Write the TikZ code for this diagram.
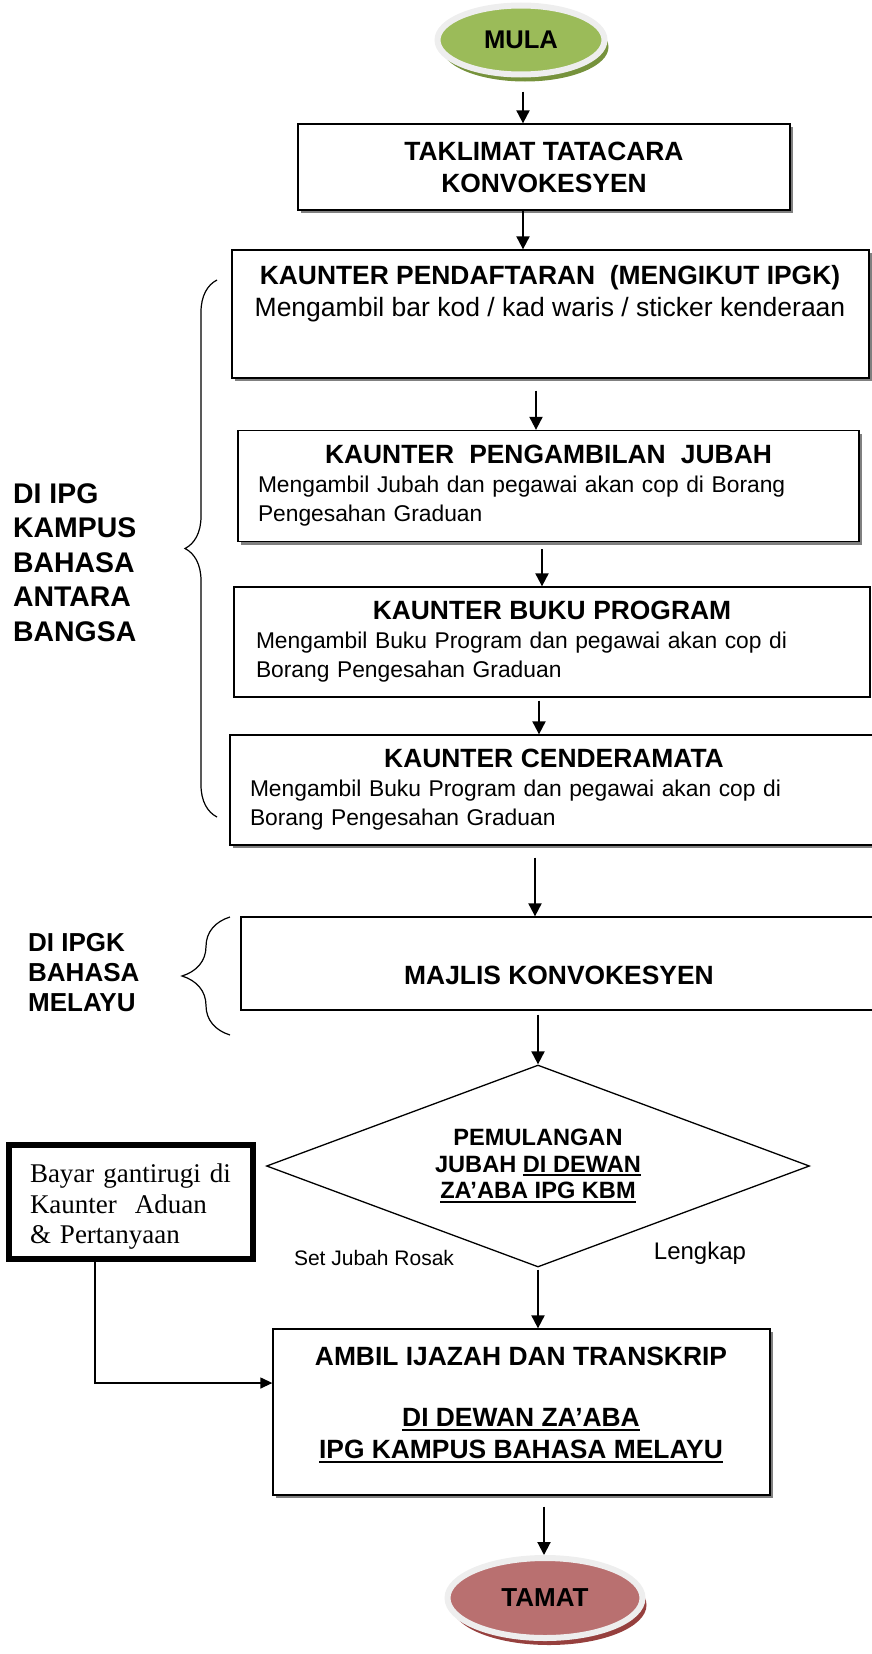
\documentclass[tikz,border=0pt]{standalone}
\usepackage{fontspec}
\setmainfont{Liberation Sans}
\newfontfamily\serifbox{Liberation Serif}
\usetikzlibrary{shapes.geometric,arrows.meta,decorations.pathreplacing,shadows}

\definecolor{mulafill}{RGB}{155,187,89}
\definecolor{mulashade}{RGB}{118,146,60}
\definecolor{tamatfill}{RGB}{185,112,112}
\definecolor{tamatshade}{RGB}{150,64,62}
\definecolor{rimgray}{RGB}{238,238,238}
\definecolor{boxshade}{RGB}{128,128,128}

\newcommand{\ulbar}[1]{\setbox0\hbox{#1}\rlap{\rule[-4pt]{\wd0}{2pt}}\box0}

\begin{document}
\begin{tikzpicture}[x=1pt, y=-1pt, draw=black,
  box/.style={draw, line width=1.3pt, fill=white, inner sep=0pt},
  shbox/.style={box, drop shadow={shadow xshift=3pt, shadow yshift=-3pt, fill=boxshade, opacity=1}},
  ttl/.style={font=\fontsize{26.4}{32}\selectfont\bfseries, align=center, inner sep=0pt},
  body/.style={font=\fontsize{22.8}{29}\selectfont, align=left},
  oval/.style={ellipse, draw=rimgray, line width=6pt, inner sep=0pt, font=\fontsize{25.6}{30}\selectfont\bfseries},
  arr/.style={line width=2pt, -{Triangle[length=13pt,width=13pt]}},
  side/.style={anchor=west, align=left, inner sep=0pt}]

\useasboundingbox (0,0) rectangle (871,1654);

\node[oval, fill=mulafill, minimum width=167pt, minimum height=69pt, drop shadow={shadow xshift=4pt, shadow yshift=-7pt, fill=mulashade, opacity=1}] (mula) at (521,40) {MULA};

\node[shbox, ttl, minimum width=492pt, minimum height=86pt] (taklimat) at (544,167) {TAKLIMAT TATACARA\\KONVOKESYEN};

\node[shbox, minimum width=637pt, minimum height=128pt] (daftar) at (550.5,314) {};
\node[ttl] (daftar-t) at (550,294) {KAUNTER PENDAFTARAN\ \ (MENGIKUT IPGK)\\{\fontsize{26.5}{32}\selectfont\mdseries Mengambil bar kod / kad waris / sticker kenderaan}};

\node[shbox, body, minimum width=621pt, minimum height=111pt, text width=581pt] (jubah) at (548.5,486) {\makebox[\linewidth]{\fontsize{26.4}{32}\selectfont\bfseries KAUNTER\ \ PENGAMBILAN\ \ JUBAH}\\Mengambil Jubah dan pegawai akan cop di Borang\\Pengesahan Graduan};

\node[box, body, minimum width=636pt, minimum height=110pt, text width=592pt] (buku) at (552,642) {\makebox[\linewidth]{\fontsize{26.4}{32}\selectfont\bfseries KAUNTER BUKU PROGRAM}\\Mengambil Buku Program dan pegawai akan cop di\\Borang Pengesahan Graduan};

\node[shbox, body, minimum width=648pt, minimum height=110pt, text width=608pt] (cendera) at (554,790) {\makebox[\linewidth]{\fontsize{26.4}{32}\selectfont\bfseries KAUNTER CENDERAMATA}\\Mengambil Buku Program dan pegawai akan cop di\\Borang Pengesahan Graduan};

\node[box, minimum width=636pt, minimum height=93pt] (majlis) at (559,963.5) {};
\node[ttl] (majlis-t) at (559,975) {MAJLIS KONVOKESYEN};

% side notes
\draw[line width=1.2pt, decorate, decoration={brace, amplitude=32pt}] (217,817) -- (217,280);
\node[side, font=\fontsize{28.4}{34.5}\selectfont\bfseries] (kbba) at (13,562.5) {DI IPG\\KAMPUS\\BAHASA\\ANTARA\\BANGSA};

\draw[line width=1.2pt, decorate, decoration={brace, amplitude=48pt}] (230,1035) -- (230,917);
\node[side, font=\fontsize{26}{30}\selectfont\bfseries] (kbm) at (28,973) {DI IPGK\\BAHASA\\MELAYU};

\node[diamond, draw, line width=1.3pt, minimum width=543pt, minimum height=202pt, inner sep=0pt, aspect=2.7, align=center, font=\fontsize{23.6}{26.5}\selectfont\bfseries] (pulang) at (538,1166) {PEMULANGAN\\JUBAH \ulbar{DI DEWAN}\\\ulbar{ZA’ABA IPG KBM}};

\node[font=\fontsize{21}{24}\selectfont] (rosak) at (374,1258) {Set Jubah Rosak};
\node[font=\fontsize{24}{28}\selectfont] (lengkap) at (700,1253) {Lengkap};

\node[draw, line width=6pt, minimum width=244pt, minimum height=114pt, inner sep=0pt] (bayar) at (131,1202) {};
\node[text width=202pt, align=left, inner sep=0pt, font=\serifbox\fontsize{27}{30.5}\selectfont] (bayar-t) at (131,1207) {Bayar gantirugi di\\Kaunter\ \ Aduan\\\&{} Pertanyaan};

\node[shbox, minimum width=497pt, minimum height=166pt] (ambil) at (521.5,1412) {};
\node[ttl] (ambil-t) at (521,1405) {AMBIL IJAZAH DAN TRANSKRIP\\[29pt]\ulbar{DI DEWAN ZA’ABA}\\\ulbar{IPG KAMPUS BAHASA MELAYU}};

\node[oval, fill=tamatfill, minimum width=195pt, minimum height=80pt, drop shadow={shadow xshift=4pt, shadow yshift=-7pt, fill=tamatshade, opacity=1}, font=\fontsize{26}{30}\selectfont\bfseries] (tamat) at (545,1598) {TAMAT};

\draw[arr, shorten <=14pt] ([xshift=2pt]mula.south) -- ([xshift=-21pt]taklimat.north);
\draw[arr] ([xshift=-21pt]taklimat.south) -- ([xshift=-27.5pt]daftar.north);
\draw[arr, shorten <=12pt] ([xshift=-14.5pt]daftar.south) -- ([xshift=-12.5pt]jubah.north);
\draw[arr, shorten <=7pt] ([xshift=-6.5pt]jubah.south) -- ([xshift=-10pt]buku.north);
\draw[arr, shorten <=3pt] ([xshift=-13pt]buku.south) -- ([xshift=-15pt]cendera.north);
\draw[arr, shorten <=12pt] ([xshift=-19pt]cendera.south) -- ([xshift=-24pt]majlis.north);
\draw[arr, shorten <=4pt] ([xshift=-21pt]majlis.south) -- (pulang.north);
\draw[arr, shorten <=2pt] (pulang.south) -- ([xshift=16.5pt]ambil.north);
\draw[arr, shorten <=11pt] ([xshift=22.5pt]ambil.south) -- ([xshift=-1pt]tamat.north);
\draw[line width=1.3pt, -{Triangle[length=12pt,width=11pt]}] ([xshift=-36pt]bayar.south) |- ([yshift=29pt]ambil.west);
\end{tikzpicture}
\end{document}
